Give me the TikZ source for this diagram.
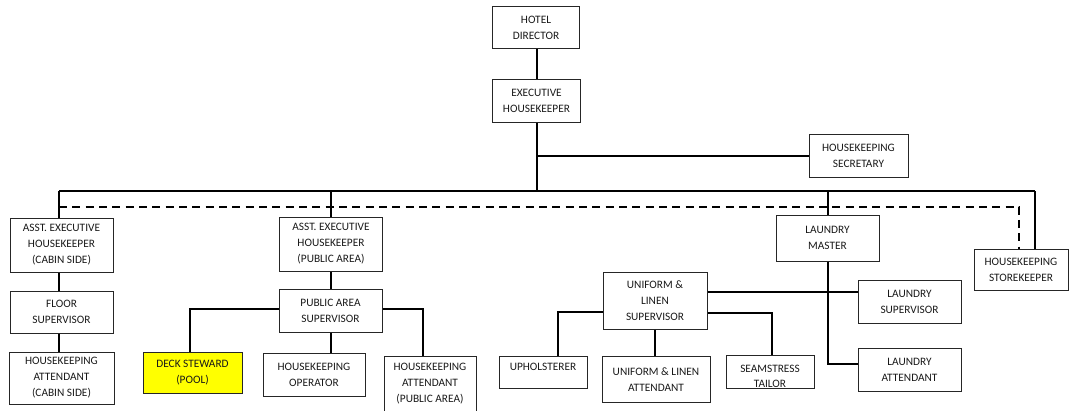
\documentclass[tikz,border=0pt]{standalone}
\usepackage{fontspec}
\setmainfont{Carlito}
\usetikzlibrary{calc}
\definecolor{deckyellow}{HTML}{FFFF00}
\tikzset{
  bx/.style 2 args={draw=black!85, line width=0.75pt, minimum width=#1*0.75pt,
    minimum height=#2*0.75pt, inner sep=0pt, align=center,
    font=\fontsize{8.5}{12}\selectfont, text=black!90},
  txt/.style={inner sep=0pt, align=center, font=\fontsize{8.5}{11.3}\selectfont, text=black!90},
  conn/.style={line width=1.5pt, black},
  dashconn/.style={line width=1.5pt, black, dash pattern=on 6pt off 4pt}
}
\begin{document}
\begin{tikzpicture}[x=0.75pt,y=-0.75pt]
\useasboundingbox (0,0) rectangle (1069,410);
% boxes
\node[bx={87}{42}] (dir) at (536,28) {HOTEL\\DIRECTOR};
\node[bx={88}{43}] (exec) at (536.5,100.5) {EXECUTIVE\\HOUSEKEEPER};
\node[bx={99}{43}] (sec) at (858.5,155.5) {HOUSEKEEPING\\SECRETARY};
\node[bx={103}{54}] (asstC) at (61.5,245) {ASST. EXECUTIVE\\HOUSEKEEPER\\(CABIN SIDE)};
\node[bx={103}{42}] (floor) at (61.5,312) {FLOOR\\SUPERVISOR};
\node[bx={105}{52}] (hkC) at (61.5,378) {HOUSEKEEPING\\ATTENDANT\\(CABIN SIDE)};
\node[bx={103}{54}] (asstP) at (331,244) {ASST. EXECUTIVE\\HOUSEKEEPER\\(PUBLIC AREA)};
\node[bx={103}{43}] (pas) at (330.5,310.5) {PUBLIC AREA\\SUPERVISOR};
\node[bx={99}{41}, fill=deckyellow] (deck) at (192.5,372.5) {DECK STEWARD\\(POOL)};
\node[bx={102}{43}] (oper) at (314,374.5) {HOUSEKEEPING\\OPERATOR};
\node[bx={92}{56}] (hkP) at (430,384) {HOUSEKEEPING\\ATTENDANT\\(PUBLIC AREA)};
\node[bx={103}{46}] (lm) at (827.5,238) {LAUNDRY\\MASTER};
\node[bx={94}{41}] (store) at (1021,269.5) {HOUSEKEEPING\\STOREKEEPER};
\node[bx={104}{57}] (uls) at (655,300.5) {UNIFORM \&\\LINEN\\SUPERVISOR};
\node[bx={103}{43}] (lsup) at (909.5,301.5) {LAUNDRY\\SUPERVISOR};
\node[bx={103}{43}] (latt) at (909.5,369.5) {LAUNDRY\\ATTENDANT};
\node[bx={88}{32}] (uph) at (543,372) {};
\node[txt] (upht) at (543,367) {UPHOLSTERER};
\node[bx={108}{46}] (ula) at (656,379.7) {UNIFORM \& LINEN\\ATTENDANT};
\node[bx={88}{33}] (sea) at (770,372) {};
\node[txt] (seat) at (770,376) {SEAMSTRESS\\TAILOR};
% coordinates
\coordinate (busL) at (59,191);
\coordinate (busR) at (1035,191);
\coordinate (dashL) at (59,206.5);
\coordinate (dashR) at (1019,206.5);
\coordinate (u1) at ($(uls.north east)+(0,20)$);
\coordinate (u2) at ($(uls.south west)+(0,-17.5)$);
\coordinate (u3) at ($(uls.south east)+(0,-17)$);
% connectors
\draw[conn] (exec.north |- dir.south) -- (exec.north);
\draw[conn] (exec.south) -- (exec.south |- busL);
\draw[conn] (exec.south |- sec.west) -- (sec.west);
\draw[conn] (busL) -- (busR);
\draw[conn] (busL) -- (busL |- asstC.north);
\draw[conn] (asstP.north |- busL) -- (asstP.north);
\draw[conn] (lm.north |- busL) -- (lm.north);
\draw[conn] (busR) -- (busR |- store.north);
\draw[dashconn] (dashL) -- (dashR) -- (dashR |- store.north);
\draw[conn] (asstC.south -| busL) -- (floor.north -| busL);
\draw[conn] (floor.south -| busL) -- (hkC.north -| busL);
\draw[conn] (asstP.south -| pas.north) -- (pas.north);
\draw[conn] ($(pas.west)+(0,-2)$) -| ($(deck.north)+(-2.5,0)$);
\draw[conn] (pas.south) -- (pas.south |- oper.north);
\draw[conn] ($(pas.east)+(0,-1.5)$) -| ($(hkP.north)+(-7,0)$);
\draw[conn] (lm.south) |- ($(latt.west)+(0,-6)$);
\draw[conn] (u1) -- (u1 -| lsup.west);
\draw[conn] (u2) -| ($(uph.north)+(15,0)$);
\draw[conn] (u3) -| ($(sea.north)+(1.5,0)$);
\draw[conn] (uls.south) -- (uls.south |- ula.north);
\end{tikzpicture}
\end{document}
